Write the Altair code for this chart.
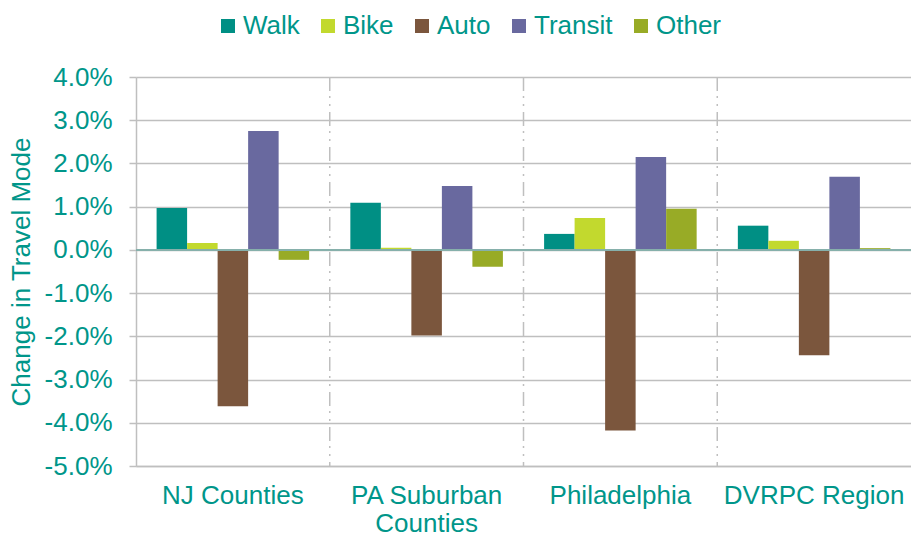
import altair as alt
import pandas as pd

regions = ["NJ Counties", "PA Suburban Counties", "Philadelphia", "DVRPC Region"]
modes = ["Walk", "Bike", "Auto", "Transit", "Other"]
walk = [0.97, 1.09, 0.37, 0.56]
bike = [0.16, 0.05, 0.74, 0.21]
auto = [-3.62, -1.98, -4.18, -2.44]
transit = [2.75, 1.48, 2.15, 1.69]
other = [-0.23, -0.39, 0.95, 0.04]
colors = ["#008F84", "#C2D92E", "#7B563D", "#69699F", "#98AB26"]
y_ticks = [-5, -4, -3, -2, -1, 0, 1, 2, 3, 4]

series = {"Walk": walk, "Bike": bike, "Auto": auto, "Transit": transit, "Other": other}
rows = []
for m in modes:
    for r, v in zip(regions, series[m]):
        rows.append({"region": r, "mode": m, "value": v / 100})
df = pd.DataFrame(rows)

TEAL = "#00968A"
GRAY = "#BFBFBF"
FONT = "Liberation Sans"
FS = 26

xenc = alt.X(
    "region:N", sort=regions,
    scale=alt.Scale(domain=regions, paddingInner=0, paddingOuter=0),
    axis=alt.Axis(
        title=None, labelFontSize=FS, labelColor=TEAL, labelFont=FONT,
        labelPadding=29, labelLineHeight=28, ticks=False, grid=False,
        domainColor=GRAY, domainWidth=1.5, labelAngle=0, labelLimit=400,
        labelAlign="center", bandPosition=0.5,
        labelExpr="datum.label == 'PA Suburban Counties' ? ['PA Suburban', 'Counties'] : datum.label",
    ),
)

bars = alt.Chart(df).mark_bar().encode(
    x=xenc,
    xOffset=alt.XOffset("mode:N", sort=modes,
                        scale=alt.Scale(domain=modes, paddingOuter=0.675, paddingInner=0)),
    y=alt.Y(
        "value:Q",
        scale=alt.Scale(domain=[-0.05, 0.04], nice=False, zero=False),
        axis=alt.Axis(
            values=[t / 100 for t in y_ticks], format=".1%",
            labelExpr="replace(datum.label, '\u2212', '-')",
            title="Change in Travel Mode", titleFontSize=FS, titleColor=TEAL,
            titleFont=FONT, titleFontWeight="normal", titlePadding=10,
            labelFontSize=FS, labelColor=TEAL, labelFont=FONT, labelPadding=17,
            tickSize=7, tickColor=GRAY, tickWidth=1.5,
            domainColor=GRAY, domainWidth=1.5,
            grid=True, gridColor=GRAY, gridWidth=1.5,
        ),
    ),
    color=alt.Color(
        "mode:N", sort=modes,
        scale=alt.Scale(domain=modes, range=colors),
        legend=alt.Legend(
            title=None, orient="none", legendX=79, legendY=-64,
            direction="horizontal", columns=5, symbolType="square",
            symbolSize=196, symbolStrokeWidth=0, labelFontSize=FS,
            labelColor=TEAL, labelFont=FONT, columnPadding=15, labelOffset=2,
            gridAlign="none",
        ),
    ),
)

sep_df = pd.DataFrame({"region": regions[1:]})
seps = alt.Chart(sep_df).mark_rule(
    color=GRAY, strokeWidth=1.5, strokeDash=[14, 5, 2, 6, 2, 6]
).encode(x=alt.X("region:N", sort=regions, bandPosition=0))

zero_df = pd.DataFrame({"v": [0.0]})
zero = alt.Chart(zero_df).mark_rule(color="#86B0AB", strokeWidth=2).encode(
    y=alt.Y("v:Q")
)

chart = alt.layer(seps, bars, zero).properties(
    width=775, height=389,
    autosize=alt.AutoSizeParams(type="none"),
    padding={"left": 128, "top": 69, "right": 0, "bottom": 70},
).configure_view(stroke=None)

chart.save("out.html", embed_options={"renderer": "svg", "actions": False})
